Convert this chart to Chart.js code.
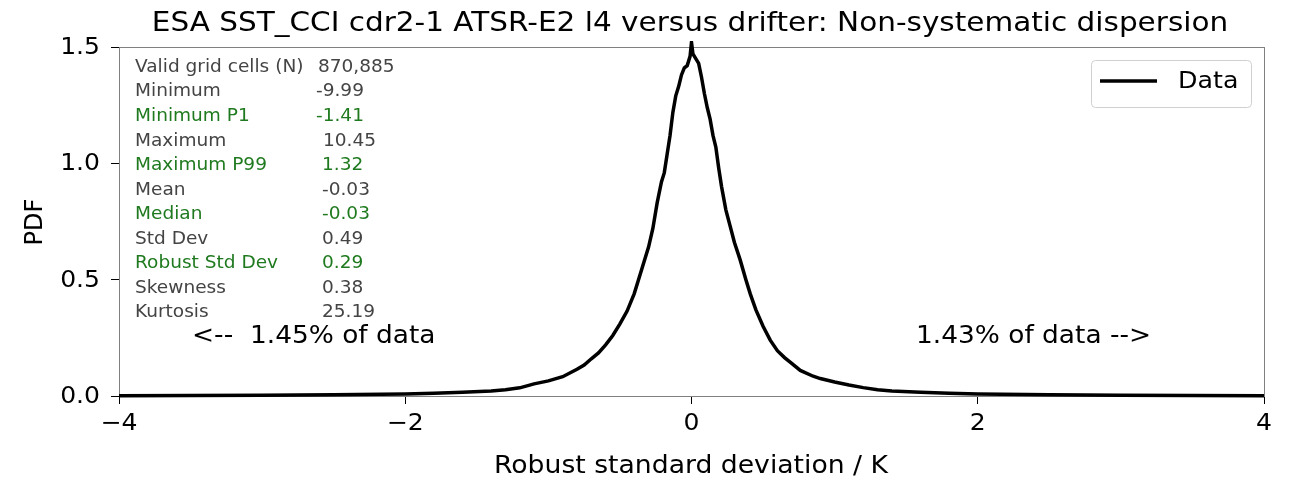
<!DOCTYPE html>
<html>
<head>
<meta charset="utf-8">
<script src="https://cdn.jsdelivr.net/npm/chart.js@4"></script>
<style>
  html, body { margin: 0; padding: 0; background: #fff; overflow: hidden; }
  canvas { display: block; }
</style>
</head>
<body>
<canvas id="graphique" width="1297" height="482"></canvas>
<script>
// Données (x = écart-type robuste / K, y = PDF)
var valeursX = [-4.0, -3.5, -3.0, -2.5, -2.0, -1.8, -1.6, -1.4, -1.3, -1.2, -1.1, -1.0, -0.9, -0.8, -0.75,
  -0.7, -0.65, -0.6, -0.55, -0.5, -0.45, -0.4, -0.36, -0.33, -0.3, -0.27, -0.24, -0.21, -0.19, -0.17,
  -0.15, -0.13, -0.11, -0.09, -0.07, -0.05, -0.03, -0.01, 0.0, 0.01, 0.03, 0.05, 0.07, 0.09, 0.11,
  0.13, 0.15, 0.17, 0.19, 0.21, 0.24, 0.27, 0.30, 0.34, 0.38, 0.41, 0.45, 0.50, 0.55, 0.60, 0.65,
  0.70, 0.76, 0.85, 0.9, 1.0, 1.1, 1.2, 1.3, 1.4, 1.6, 1.8, 2.0, 2.5, 3.0, 3.5, 4.0];
var valeursY = [0.001, 0.002, 0.003, 0.005, 0.009, 0.012, 0.016, 0.022, 0.027, 0.035, 0.052, 0.065, 0.083, 0.115, 0.133,
  0.16, 0.185, 0.22, 0.26, 0.31, 0.365, 0.44, 0.52, 0.58, 0.64, 0.72, 0.83, 0.92, 0.96, 1.04,
  1.12, 1.22, 1.29, 1.33, 1.38, 1.41, 1.42, 1.46, 1.52, 1.47, 1.45, 1.43, 1.37, 1.30, 1.24,
  1.19, 1.12, 1.07, 0.98, 0.90, 0.80, 0.73, 0.66, 0.585, 0.50, 0.44, 0.37, 0.30, 0.24, 0.195, 0.165,
  0.14, 0.11, 0.085, 0.075, 0.06, 0.047, 0.036, 0.027, 0.022, 0.016, 0.012, 0.009, 0.005, 0.003, 0.002, 0.001];

// Graduations
var ticksX = [-4, -2, 0, 2, 4];
var ticksY = [0.0, 0.5, 1.0, 1.5];

// Tableau des statistiques
var statsLibelles = ["Valid grid cells (N)", "Minimum", "Minimum P1", "Maximum", "Maximum P99", "Mean",
  "Median", "Std Dev", "Robust Std Dev", "Skewness", "Kurtosis"];
var statsValeurs = ["870,885", "-9.99", "-1.41", "10.45", "1.32", "-0.03", "-0.03", "0.49", "0.29", "0.38", "25.19"];
var statsVert = [false, false, true, false, true, false, true, false, true, false, false];

var titre = "ESA SST_CCI cdr2-1 ATSR-E2 l4 versus drifter: Non-systematic dispersion";
var police = "'DejaVu Sans', sans-serif";
var etirement = 1.1; // l'image d'origine est légèrement étirée en largeur

var donneesXY = [];
for (var i = 0; i < valeursX.length; i++) {
  donneesXY.push({ x: valeursX[i], y: valeursY[i] });
}

// Écrit un texte étiré horizontalement
function texte(ctx, t, x, y, taille, align, sx) {
  ctx.save();
  ctx.font = taille + 'px ' + police;
  ctx.textAlign = align;
  ctx.textBaseline = 'middle';
  ctx.translate(x, y);
  ctx.scale(sx || etirement, 1);
  ctx.fillText(t, 0, 0);
  ctx.restore();
}

/* Plugin : cadre, titres, graduations, annotations, légende */
var habillage = {
  id: 'habillage',
  beforeDatasetsDraw: function(chart) {
    var ctx = chart.ctx, a = chart.chartArea;
    ctx.save();
    ctx.strokeStyle = '#808080';
    ctx.lineWidth = 1;
    ctx.strokeRect(a.left + 0.5, a.top + 0.5, a.right - a.left, a.bottom - a.top);
    ctx.restore();
  },
  afterDraw: function(chart) {
    var ctx = chart.ctx;
    var sx = chart.scales.x, sy = chart.scales.y;
    ctx.save();
    ctx.fillStyle = '#000';
    // titre
    texte(ctx, titre, 690, 24, 26.5, 'center', 1.113);
    // libellés des graduations
    ticksX.forEach(function(v) {
      texte(ctx, String(v).replace('-', '\u2212'), sx.getPixelForValue(v), 424, 23, 'center', 1.09);
    });
    ticksY.forEach(function(v) {
      texte(ctx, v.toFixed(1), 100, sy.getPixelForValue(v) + 1, 23, 'right', 1.09);
    });
    // titres des axes
    texte(ctx, "Robust standard deviation / K", 691, 467, 24, 'center', 1.11);
    ctx.save();
    ctx.translate(36, 222);
    ctx.rotate(-Math.PI / 2);
    ctx.font = '24px ' + police;
    ctx.textAlign = 'center';
    ctx.textBaseline = 'middle';
    ctx.fillText("PDF", 0, 0);
    ctx.restore();
    // pourcentages
    texte(ctx, "<--  1.45% of data", 192, 337, 24, 'left', 1.1);
    texte(ctx, "1.43% of data -->", 916, 337, 24, 'left', 1.1);
    // statistiques
    var xVal = [318, 316, 316, 323, 322, 322, 322, 322, 322, 322, 322];
    for (var k = 0; k < statsLibelles.length; k++) {
      ctx.fillStyle = statsVert[k] ? '#1f7a1f' : '#444444';
      var yy = 67.5 + k * 24.54;
      texte(ctx, statsLibelles[k], 135, yy, 17, 'left', 1.09);
      texte(ctx, statsValeurs[k], xVal[k], yy, 17, 'left', 1.09);
    }
    // légende
    ctx.strokeStyle = '#d0d0d0';
    ctx.lineWidth = 1;
    ctx.beginPath();
    ctx.roundRect(1091.5, 60.5, 160, 47, 4);
    ctx.stroke();
    ctx.strokeStyle = '#000';
    ctx.lineWidth = 3.5;
    ctx.beginPath();
    ctx.moveTo(1100, 81);
    ctx.lineTo(1157, 81);
    ctx.stroke();
    ctx.fillStyle = '#000';
    texte(ctx, "Data", 1178, 82, 23, 'left', 1.1);
    ctx.restore();
  }
};

var ctx = document.getElementById('graphique').getContext('2d');
var courbeChart = new Chart(ctx, {
  type: 'line',
  data: {
    datasets: [{
      label: 'Data',
      data: donneesXY,
      borderColor: '#000',
      borderWidth: 3.5,
      pointRadius: 0,
      tension: 0,
      fill: false,
      clip: { left: 0, top: 6, right: 0, bottom: 3 }
    }]
  },
  options: {
    animation: false,
    responsive: false,
    devicePixelRatio: 1,
    layout: { padding: { top: 47, right: 33, left: 0, bottom: 0 } },
    plugins: { legend: { display: false }, tooltip: { enabled: false } },
    scales: {
      x: {
        type: 'linear',
        min: -4, max: 4,
        afterFit: function(s) { s.height = 86; },
        afterBuildTicks: function(s) { s.ticks = ticksX.map(function(v) { return { value: v }; }); },
        ticks: { display: false },
        grid: { drawOnChartArea: false, tickLength: 8, color: '#000' },
        border: { display: false }
      },
      y: {
        min: 0, max: 1.5,
        afterFit: function(s) { s.width = 119; },
        afterBuildTicks: function(s) { s.ticks = ticksY.map(function(v) { return { value: v }; }); },
        ticks: { display: false },
        grid: { drawOnChartArea: false, tickLength: 8, color: '#000' },
        border: { display: false }
      }
    }
  },
  plugins: [habillage]
});
</script>
</body>
</html>
